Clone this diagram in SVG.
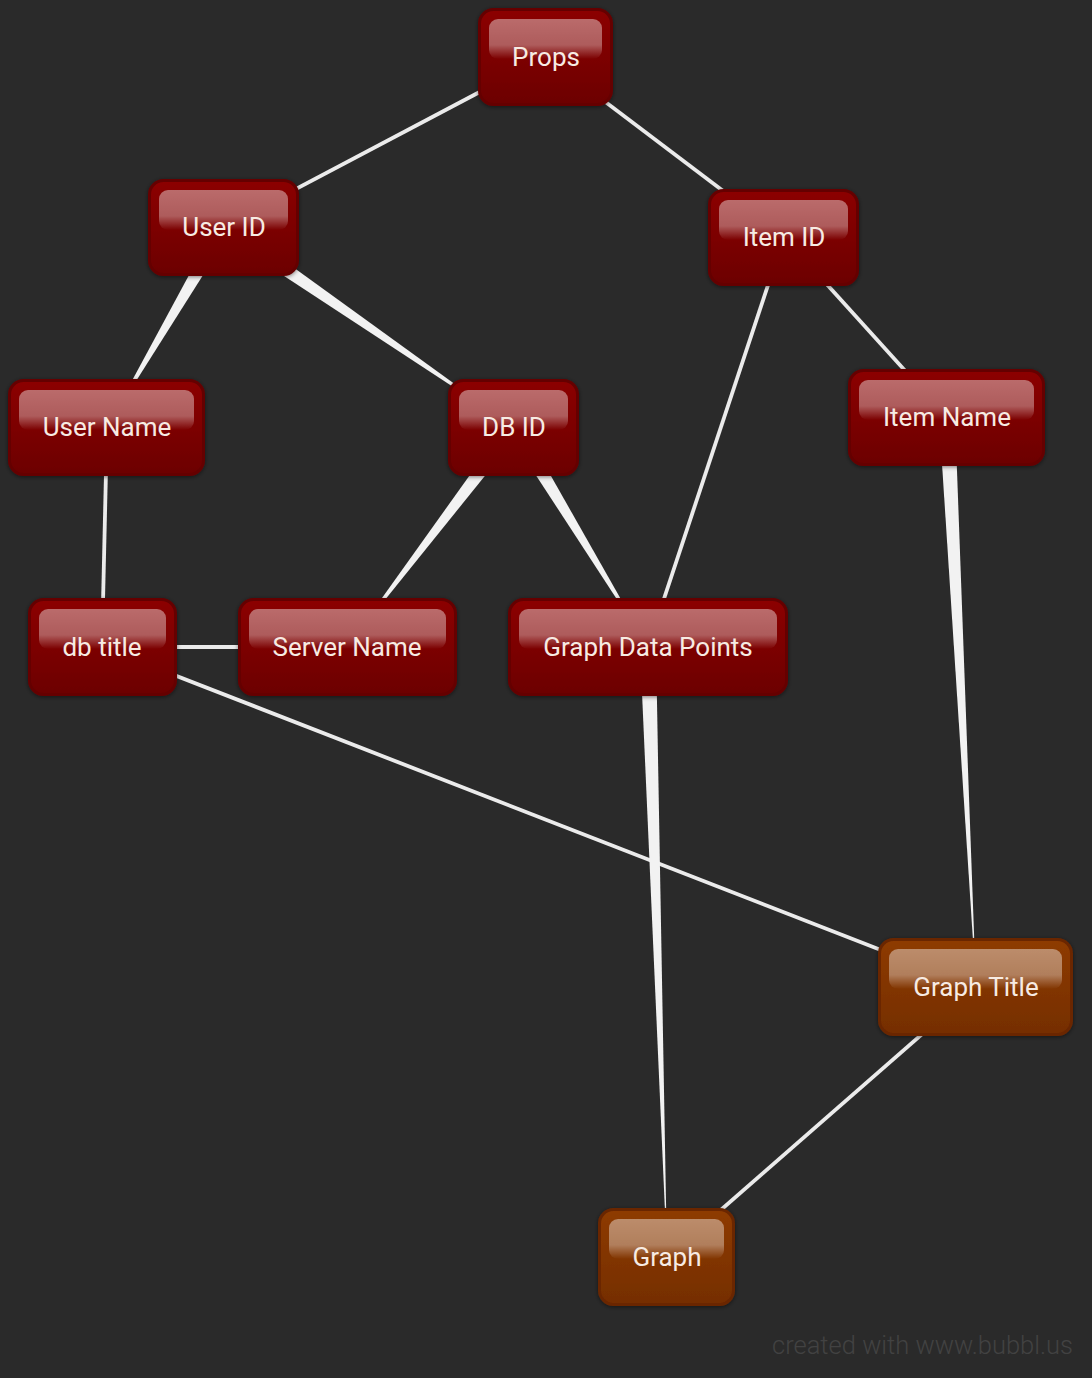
<svg xmlns="http://www.w3.org/2000/svg" width="1092" height="1378" viewBox="0 0 1092 1378">
<defs>
<linearGradient id="redFill" x1="0" y1="0" x2="0" y2="1">
<stop offset="0" stop-color="#8c0000"/>
<stop offset="1" stop-color="#6c0000"/>
</linearGradient>
<linearGradient id="orgFill" x1="0" y1="0" x2="0" y2="1">
<stop offset="0" stop-color="#8e3b00"/>
<stop offset="1" stop-color="#752e00"/>
</linearGradient>
<linearGradient id="gloss" x1="0" y1="0" x2="0" y2="1">
<stop offset="0" stop-color="#ffffff" stop-opacity="0.42"/>
<stop offset="0.65" stop-color="#ffffff" stop-opacity="0.36"/>
<stop offset="1" stop-color="#ffffff" stop-opacity="0"/>
</linearGradient>
<filter id="sh" x="-10%" y="-10%" width="120%" height="125%">
<feDropShadow dx="0" dy="1" stdDeviation="2" flood-color="#000" flood-opacity="0.5"/>
</filter>
</defs>
<style>
.red{fill:url(#redFill);stroke:#650000;stroke-width:3;filter:url(#sh)}
.org{fill:url(#orgFill);stroke:#6a2700;stroke-width:3;filter:url(#sh)}
.gl{fill:url(#gloss)}
.lbl{font-family:Roboto,"Liberation Sans",sans-serif;font-size:26px;fill:#f7ebe3;text-anchor:middle}
.ln{stroke:#ebebeb;stroke-width:3.8;fill:none}
.tp{fill:#f2f2f2}
.wm{font-family:Roboto,"Liberation Sans",sans-serif;font-weight:300;font-size:25.5px;fill:#424242;text-anchor:end}
</style>
<rect width="1092" height="1378" fill="#2a2a2a"/>
<g id="connectors">
<line class="ln" x1="546" y1="57" x2="224" y2="227"/>
<line class="ln" x1="546" y1="57" x2="784" y2="237"/>
<line class="ln" x1="784" y1="237" x2="947" y2="417"/>
<line class="ln" x1="784" y1="237" x2="648" y2="647"/>
<line class="ln" x1="107" y1="427" x2="102" y2="647"/>
<line class="ln" x1="102" y1="647" x2="347" y2="647"/>
<line class="ln" x1="102" y1="647" x2="976" y2="987"/>
<line class="ln" x1="976" y1="987" x2="667" y2="1257"/>
<polygon class="tp" points="230.9,231 217.1,223 107,427"/>
<polygon class="tp" points="219.5,233.6 228.5,220.4 514,427"/>
<polygon class="tp" points="520.4,431.8 507.6,422.2 347,647"/>
<polygon class="tp" points="507.2,431.2 520.8,422.8 648,647"/>
<polygon class="tp" points="939,417.4 955,416.6 976,987"/>
<polygon class="tp" points="640,647.2 656,646.8 667,1257"/>
</g>
<g id="props">
<rect class="red" x="479.5" y="9.5" width="132" height="95" rx="14"/>
<rect class="gl" x="489" y="19" width="113" height="40" rx="9"/>
<text class="lbl" x="546" y="66">Props</text>
</g>
<g id="userid">
<rect class="red" x="149.5" y="180.5" width="148" height="94" rx="14"/>
<rect class="gl" x="159" y="190" width="129" height="40" rx="9"/>
<text class="lbl" x="224" y="236">User ID</text>
</g>
<g id="itemid">
<rect class="red" x="709.5" y="190.5" width="148" height="94" rx="14"/>
<rect class="gl" x="719" y="200" width="129" height="40" rx="9"/>
<text class="lbl" x="784" y="246">Item ID</text>
</g>
<g id="username">
<rect class="red" x="9.5" y="380.5" width="194" height="94" rx="14"/>
<rect class="gl" x="19" y="390" width="175" height="40" rx="9"/>
<text class="lbl" x="107" y="436">User Name</text>
</g>
<g id="dbid">
<rect class="red" x="449.5" y="380.5" width="128" height="94" rx="14"/>
<rect class="gl" x="459" y="390" width="109" height="40" rx="9"/>
<text class="lbl" x="514" y="436">DB ID</text>
</g>
<g id="itemname">
<rect class="red" x="849.5" y="370.5" width="194" height="94" rx="14"/>
<rect class="gl" x="859" y="380" width="175" height="40" rx="9"/>
<text class="lbl" x="947" y="426">Item Name</text>
</g>
<g id="dbtitle">
<rect class="red" x="29.5" y="599.5" width="146" height="95" rx="14"/>
<rect class="gl" x="39" y="609" width="127" height="40" rx="9"/>
<text class="lbl" x="102" y="656">db title</text>
</g>
<g id="servername">
<rect class="red" x="239.5" y="599.5" width="216" height="95" rx="14"/>
<rect class="gl" x="249" y="609" width="197" height="40" rx="9"/>
<text class="lbl" x="347" y="656">Server Name</text>
</g>
<g id="graphdatapoints">
<rect class="red" x="509.5" y="599.5" width="277" height="95" rx="14"/>
<rect class="gl" x="519" y="609" width="258" height="40" rx="9"/>
<text class="lbl" x="648" y="656">Graph Data Points</text>
</g>
<g id="graphtitle">
<rect class="org" x="879.5" y="939.5" width="192" height="95" rx="14"/>
<rect class="gl" x="889" y="949" width="173" height="40" rx="9"/>
<text class="lbl" x="976" y="996">Graph Title</text>
</g>
<g id="graph">
<rect class="org" x="599.5" y="1209.5" width="134" height="95" rx="14"/>
<rect class="gl" x="609" y="1219" width="115" height="40" rx="9"/>
<text class="lbl" x="667" y="1266">Graph</text>
</g>
<text class="wm" x="1073" y="1354">created with www.bubbl.us</text>
</svg>
